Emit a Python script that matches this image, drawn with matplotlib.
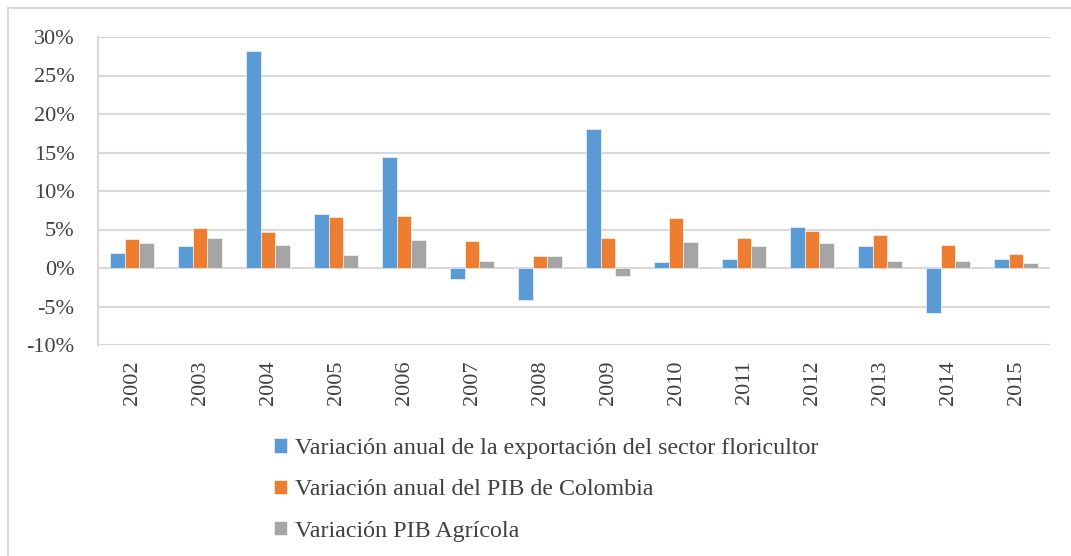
import matplotlib.pyplot as plt
import numpy as np
from matplotlib.patches import Rectangle
from matplotlib.ticker import FuncFormatter

plt.rcParams['font.family'] = ['Liberation Serif', 'DejaVu Serif']

years = ['2002', '2003', '2004', '2005', '2006', '2007', '2008',
         '2009', '2010', '2011', '2012', '2013', '2014', '2015']
export_flores = [2.0, 2.9, 28.2, 7.0, 14.4, -1.4, -4.1, 18.1, 0.8, 1.2, 5.3, 2.8, -5.8, 1.2]
pib_colombia = [3.8, 5.25, 4.65, 6.6, 6.75, 3.5, 1.6, 3.95, 6.5, 3.9, 4.8, 4.25, 2.95, 1.8]
pib_agricola = [3.2, 3.95, 2.95, 1.65, 3.7, 0.9, 1.6, -1.0, 3.4, 2.8, 3.3, 0.95, 0.95, 0.6]

etiquetas = ['Variación anual de la exportación del sector floricultor',
             'Variación anual del PIB de Colombia',
             'Variación PIB Agrícola']
colores = ['#5B9BD5', '#ED7D31', '#A5A5A5']

fig = plt.figure(figsize=(10.71, 5.56), dpi=100)
# marco exterior (solo se ve arriba y a la izquierda)
fig.patches.append(Rectangle((8/1071, -0.1), 1.2, (548/556) + 0.1, transform=fig.transFigure,
                             fill=False, edgecolor='#D9D9D9', linewidth=1.5))

ax = fig.add_axes([98/1071, 1 - 345/556, (1050-98)/1071, (345-37)/556])
x = np.arange(len(years))
w = 0.22
for i, (serie, c, lab) in enumerate(zip([export_flores, pib_colombia, pib_agricola], colores, etiquetas)):
    ax.bar(x + (i - 1) * w, serie, w, color=c, label=lab, zorder=3,
           edgecolor='white', linewidth=0.4)

ax.set_xlim(-0.5, len(years) - 0.5)
ax.set_ylim(-10, 30)
ax.set_yticks(np.arange(-10, 31, 5))
ax.yaxis.set_major_formatter(FuncFormatter(lambda v, p: '%d%%' % v))
ax.set_xticks(x)
ax.set_xticklabels(years, rotation=90)
ax.tick_params(axis='both', length=0, labelsize=16, colors='#404040')
ax.tick_params(axis='x', pad=11)
ax.tick_params(axis='y', pad=17)
ax.grid(axis='y', color='#D9D9D9', linewidth=1.5, zorder=0)
for s in ['top', 'right', 'bottom']:
    ax.spines[s].set_visible(False)
ax.spines['left'].set_color('#D9D9D9')
ax.spines['left'].set_linewidth(1.5)
ax.axhline(0, color='#D9D9D9', linewidth=1.5, zorder=2)

fig.legend(loc='upper left', bbox_to_anchor=(262/1071, 1 - 426/556), frameon=False,
           fontsize=17.3, handlelength=0.53, handleheight=0.53, handletextpad=0.33,
           labelspacing=0.85, labelcolor='#404040', borderpad=0)

plt.savefig('out.png', dpi=100)
